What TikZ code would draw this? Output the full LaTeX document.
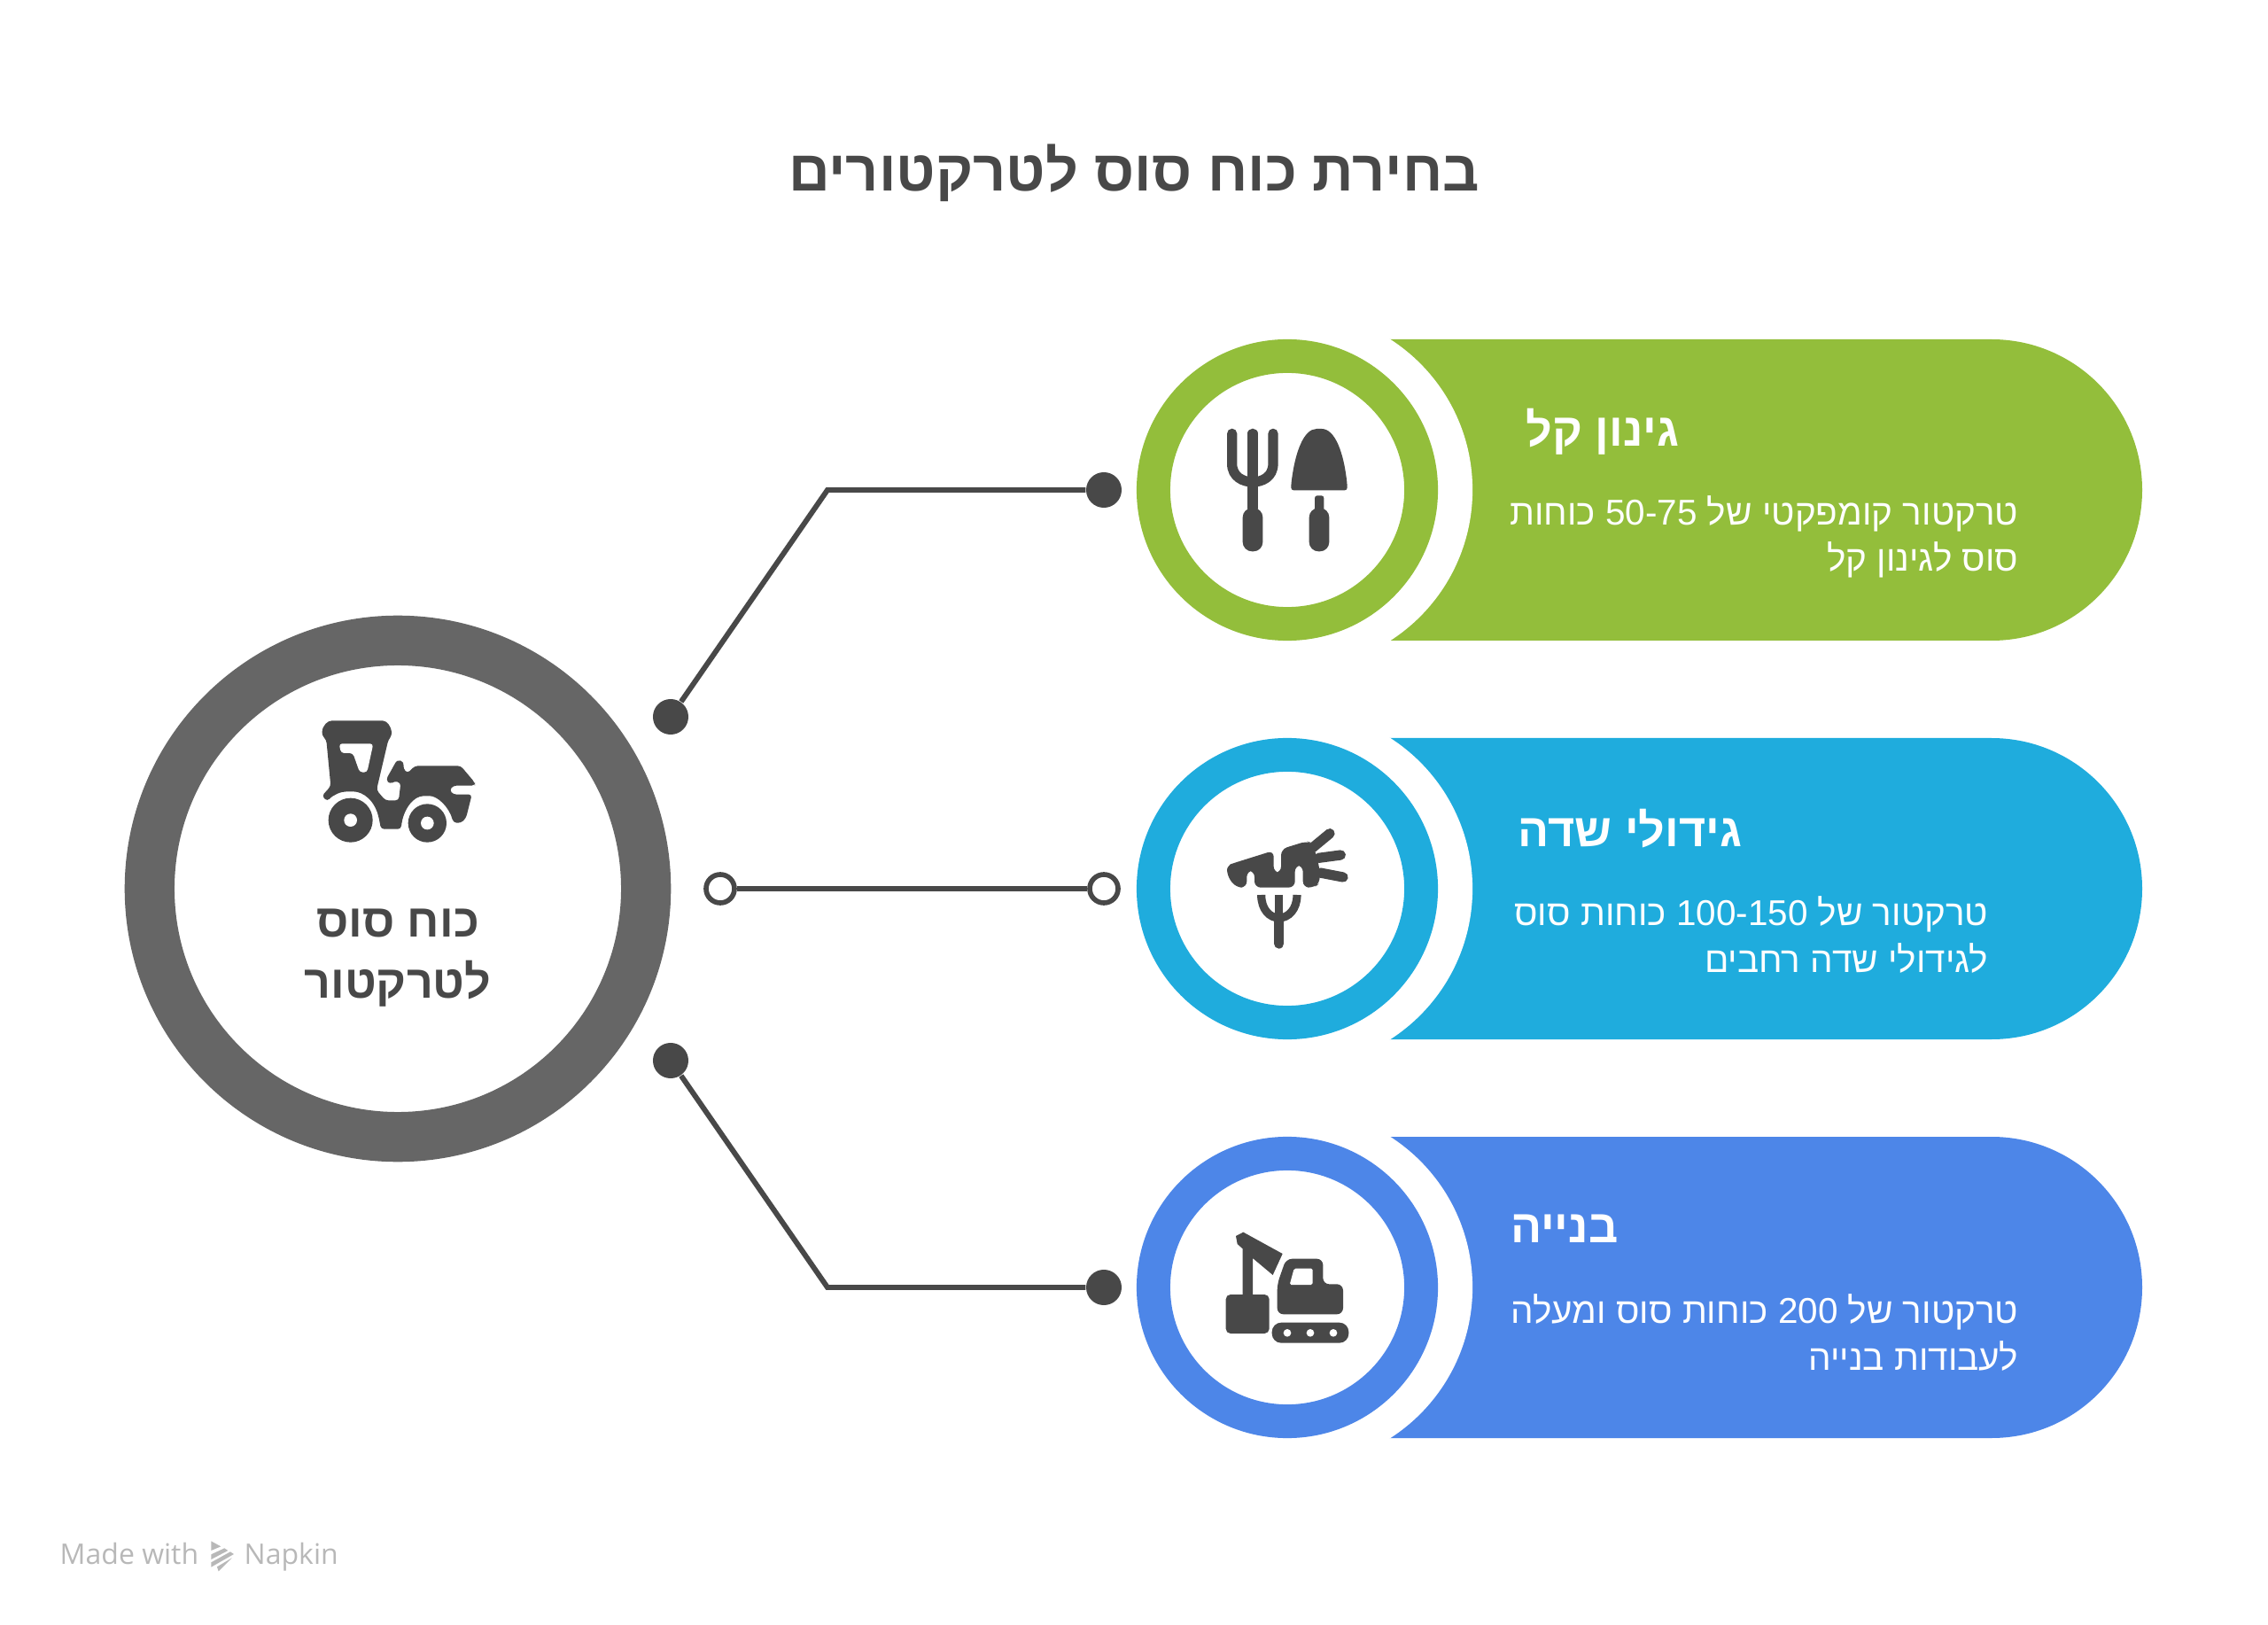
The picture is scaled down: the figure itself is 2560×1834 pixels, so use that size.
\documentclass[tikz,border=0pt]{standalone}
\usepackage{fontspec}
\usepackage{xcolor}
\usepackage{tikz}
\TeXXeTstate=1
\newfontfamily\hebfont[Script=Hebrew]{Liberation Sans}
\newfontfamily\markfont{Open Sans}
\definecolor{ink}{HTML}{484848}
\definecolor{hubgray}{HTML}{666666}
\definecolor{leafgreen}{HTML}{93BE3B}
\definecolor{skyblue}{HTML}{1FACDD}
\definecolor{royalblue}{HTML}{4D86E8}
\definecolor{markgray}{HTML}{B8B8B8}
\tikzset{ring/.style={circle,draw=#1,fill=white,line width=10.8pt,minimum size=3.02cm,inner sep=0pt}}
\tikzset{gap/.style={circle,fill=white,minimum size=4.04cm,inner sep=0pt}}
\tikzset{dot/.style={circle,fill=ink,minimum size=0.4cm,inner sep=0pt}}
\tikzset{opendot/.style={circle,draw=ink,fill=white,line width=1.6pt,minimum size=0.32cm,inner sep=0pt}}
\tikzset{wire/.style={draw=ink,line width=1.7pt}}
\tikzset{head/.style={text=white,inner sep=0pt,font=\hebfont\bfseries\fontsize{14.8}{18}\selectfont}}
\tikzset{body/.style={text=white,inner sep=0pt,align=right,font=\hebfont\fontsize{11.5}{14.8}\selectfont}}
\tikzset{tine/.style={draw=ink,line width=3.2pt,line cap=round}}
\begin{document}
\begin{tikzpicture}[x=0.01cm,y=-0.01cm]
        \useasboundingbox (0,0) rectangle (2560,1834);

        \node[text=ink,inner sep=0pt,font=\hebfont\bfseries\fontsize{18.4}{22}\selectfont] (title) at (1280,195) {\beginR בחירת כוח סוס לטרקטורים\endR};

        \node[circle,draw=hubgray,fill=white,line width=16pt,minimum size=5.6cm,inner sep=0pt] (hub) at (449,1003) {};
        \node[text=ink,inner sep=0pt,align=center,font=\hebfont\bfseries\fontsize{14.8}{19.6}\selectfont] (hubtext) at (449,1081) {\beginR כוח סוס\endR\\\beginR לטרקטור\endR};

        \fill[leafgreen] (1500,383) -- (2248,383) arc (-90:90:170) -- (1500,723) -- cycle;
        \fill[skyblue] (1500,833) -- (2248,833) arc (-90:90:170) -- (1500,1173) -- cycle;
        \fill[royalblue] (1500,1283) -- (2248,1283) arc (-90:90:170) -- (1500,1623) -- cycle;

        \node[gap] (gap1) at (1460,553) {};
        \node[gap] (gap2) at (1460,1003) {};
        \node[gap] (gap3) at (1460,1453) {};

        \node[ring=leafgreen] (ring1) at (1453,553) {};
        \node[ring=skyblue] (ring2) at (1453,1003) {};
        \node[ring=royalblue] (ring3) at (1453,1453) {};

        \node[dot] (a1) at (757,809) {};
        \node[dot] (b1) at (1246,553) {};
        \node[opendot] (a2) at (813,1003) {};
        \node[opendot] (b2) at (1246,1003) {};
        \node[dot] (a3) at (757,1197) {};
        \node[dot] (b3) at (1246,1453) {};
        \coordinate (e1) at (934,553);
        \coordinate (e3) at (934,1453);

        \draw [wire] (a1) -- (e1) -- (b1);
        \draw [wire] (a2) -- (b2);
        \draw [wire] (a3) -- (e3) -- (b3);

        \node[head,anchor=east] (head1) at (1896,487) {\beginR גינון קל\endR};
        \node[body,anchor=east] (body1) at (2279,606) {\beginR טרקטור קומפקטי של \beginL 50-75\endL{} כוחות\endR\\\beginR סוס לגינון קל\endR};
        \node[head,anchor=east] (head2) at (1967,935) {\beginR גידולי שדה\endR};
        \node[body,anchor=east] (body2) at (2245,1055) {\beginR טרקטור של \beginL 100-150\endL{} כוחות סוס\endR\\\beginR לגידולי שדה רחבים\endR};
        \node[head,anchor=east] (head3) at (1827,1387) {\beginR בנייה\endR};
        \node[body,anchor=east] (body3) at (2279,1504) {\beginR טרקטור של \beginL 200\endL{} כוחות סוס ומעלה\endR\\\beginR לעבודות בנייה\endR};

        % tractor
        \begin{scope}[shift={(320,780)},scale=1/3]
        \fill[ink,rounded corners=1pt] (130,150) .. controls (132,115) and (150,100) .. (175,100) -- (325,100) .. controls (350,100) and (365,120) .. (367,150) -- (355,165) -- (315,335) -- (345,370) -- (390,370) -- (397,310) -- (375,305) -- (360,315) -- (347,300) -- (385,232) -- (408,240) -- (405,262) -- (420,278) -- (445,253) -- (600,253) -- (648,310) -- (648,320) -- (575,320) -- (562,335) -- (575,350) -- (638,350) -- (618,430) -- (600,447) -- (575,445) .. controls (560,390) and (520,355) .. (485,355) .. controls (440,355) and (405,400) .. (398,467) -- (330,467) -- (325,440) .. controls (310,370) and (270,340) .. (225,340) .. controls (195,340) and (170,350) .. (148,373) -- (130,355) -- (160,322) -- (145,165) -- cycle;
        \fill[white,rounded corners=1pt] (188,178) -- (304,178) -- (283,275) -- (258,275) -- (235,210) -- (195,210) -- cycle;
        \fill[ink] (227,437) circle (75);
        \fill[white] (227,437) circle (22);
        \fill[ink] (487,447) circle (65);
        \fill[white] (487,447) circle (22);
        \end{scope}

        % garden tools
        \begin{scope}[shift={(1340,460)},scale=1/3]
        \draw[tine] (152,88) -- (152,190) .. controls (152,235) and (190,252) .. (222,252);
        \draw[tine] (291,88) -- (291,190) .. controls (291,235) and (254,252) .. (222,252);
        \draw[tine] (222,88) -- (222,340);
        \fill[ink,rounded corners=3pt] (188,340) rectangle (256,487);
        \fill[ink,rounded corners=0.8pt] (352,280) -- (542,280) -- (542,262) .. controls (530,150) and (500,72) .. (447,72) .. controls (395,72) and (365,150) .. (352,262) -- cycle;
        \fill[ink,rounded corners=0.8pt] (432,298) rectangle (463,350);
        \fill[ink,rounded corners=3pt] (413,340) rectangle (481,487);
        \end{scope}

        % carrot
        \begin{scope}[shift={(1340,910)},scale=1/3]
        \fill[ink,rounded corners=2pt] (135,235) .. controls (135,205) and (150,195) .. (165,190) -- (293,150) -- (293,225) -- (318,225) -- (318,145) -- (405,118) -- (425,125) -- (447,200) -- (450,260) -- (430,275) -- (392,275) -- (392,200) -- (365,200) -- (365,275) -- (228,275) -- (228,218) -- (202,218) -- (202,275) -- (165,275) -- cycle;
        \draw[tine] (425,140) -- (483,92);
        \draw[tine] (445,175) -- (520,165);
        \draw[tine] (450,225) -- (528,240);
        \draw[ink,line width=2.6pt] (251,300) .. controls (251,350) and (280,378) .. (311,378) .. controls (342,378) and (372,350) .. (372,300);
        \draw[ink,line width=2.6pt] (311,300) -- (311,378);
        \draw[tine] (311,378) -- (311,465);
        \end{scope}

        % excavator
        \begin{scope}[shift={(1340,1360)},scale=1/3]
        \fill[ink,rounded corners=1.5pt] (131,303) rectangle (278,435);
        \fill[ink] (188,310) -- (188,148) -- (170,132) -- (165,105) -- (190,92) -- (323,165) -- (290,237) -- (222,180) -- (222,310) -- cycle;
        \fill[ink,rounded corners=2pt] (305,268) -- (335,182) -- (460,182) -- (460,268) -- (528,268) -- (528,370) -- (305,370) -- cycle;
        \fill[white,rounded corners=0.5pt] (362,215) -- (425,215) -- (425,270) -- (347,270) -- cycle;
        \fill[ink,rounded corners=3pt] (287,398) rectangle (547,467);
        \fill[white] (339,433) circle (13);
        \fill[white] (417,433) circle (13);
        \fill[white] (495,433) circle (13);
        \end{scope}

        \node[text=markgray,inner sep=0pt,anchor=base west,font=\markfont\fontsize{9.1}{10}\selectfont] (made) at (67,1765) {Made with};
        \node[text=markgray,inner sep=0pt,anchor=base west,font=\markfont\fontsize{9.1}{10}\selectfont] (napkin) at (275,1765) {Napkin};
        \begin{scope}[shift={(40,1710)},scale=1/3]
        \fill[markgray] (595,88) -- (628,106) -- (595,120) -- cycle;
        \fill[markgray] (595,133) -- (640,112) -- (652,120) -- (595,150) -- cycle;
        \fill[markgray] (595,160) -- (660,124) -- (672,132) -- (595,176) -- cycle;
        \fill[markgray] (615,175) -- (665,145) -- (620,190) -- cycle;
        \end{scope}
    \end{tikzpicture}
\end{document}
